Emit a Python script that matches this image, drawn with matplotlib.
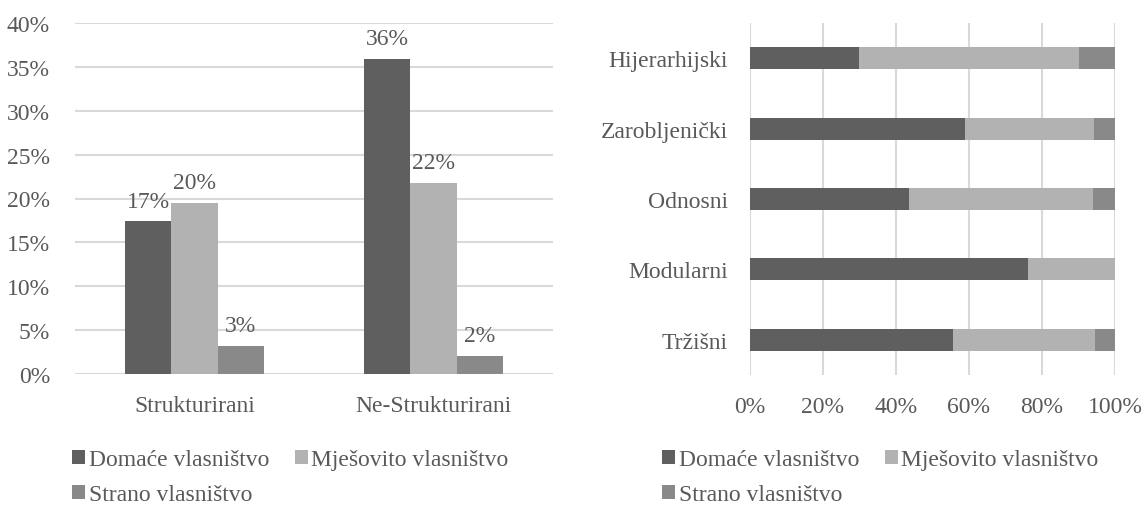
import matplotlib
matplotlib.use("Agg")
import matplotlib.pyplot as plt
from matplotlib.patches import Patch
from matplotlib.ticker import PercentFormatter
import numpy as np

# Data
series_names = ["Domaće vlasništvo", "Mješovito vlasništvo", "Strano vlasništvo"]
series_colors = ["#5f5f5f", "#b2b2b2", "#898989"]

structure_cats = ["Strukturirani", "Ne-Strukturirani"]
domace_struct = [17.4, 35.9]
mjesovito_struct = [19.5, 21.8]
strano_struct = [3.2, 2.1]

model_cats = ["Tržišni", "Modularni", "Odnosni", "Zarobljenički", "Hijerarhijski"]
domace_model = [55.5, 76.1, 43.6, 58.8, 30.0]
mjesovito_model = [39.0, 23.9, 50.4, 35.5, 60.1]
strano_model = [5.5, 0.0, 6.0, 5.7, 9.9]

text_color = "#595959"
grid_color = "#d9d9d9"
fs = 17

plt.rcParams["font.family"] = ["Liberation Serif", "DejaVu Serif"]
plt.rcParams["text.color"] = text_color
plt.rcParams["axes.labelcolor"] = text_color
plt.rcParams["xtick.color"] = text_color
plt.rcParams["ytick.color"] = text_color

W, H = 1142, 506
fig = plt.figure(figsize=(W / 100, H / 100), dpi=100)

def box(x0, y0, x1, y1):
    return [x0 / W, 1 - y1 / H, (x1 - x0) / W, (y1 - y0) / H]

# Left: grouped columns
ax1 = fig.add_axes(box(75, 24, 553, 375))
x = np.arange(len(structure_cats))
bw = 0.193
groups = [domace_struct, mjesovito_struct, strano_struct]
for i, (vals, col) in enumerate(zip(groups, series_colors)):
    bars = ax1.bar(x + (i - 1) * bw, vals, width=bw, color=col, zorder=3)
    ax1.bar_label(bars, labels=[f"{round(v):d}%" for v in vals],
                  padding=7, fontsize=fs, color=text_color)
ax1.set_xlim(-0.5, 1.5)
ax1.set_ylim(0, 40)
ax1.set_yticks(np.arange(0, 41, 5))
ax1.yaxis.set_major_formatter(PercentFormatter(decimals=0))
ax1.set_xticks(x)
ax1.set_xticklabels(structure_cats)
ax1.grid(axis="y", color=grid_color, linewidth=1.5, zorder=0)
ax1.tick_params(axis="both", length=0, labelsize=fs)
ax1.tick_params(axis="y", pad=18)
ax1.tick_params(axis="x", pad=15)
for s in ax1.spines.values():
    s.set_visible(False)

# Right: 100% stacked horizontal bars
ax2 = fig.add_axes(box(750, 24, 1115, 376))
y = np.arange(len(model_cats))
bh = 0.31
left = np.zeros(len(model_cats))
for vals, col in zip([domace_model, mjesovito_model, strano_model], series_colors):
    vals = np.array(vals)
    ax2.barh(y, vals, left=left, height=bh, color=col, zorder=3)
    left += vals
ax2.set_xlim(0, 100)
ax2.set_ylim(-0.5, len(model_cats) - 0.5)
ax2.set_xticks(np.arange(0, 101, 20))
ax2.xaxis.set_major_formatter(PercentFormatter(decimals=0))
ax2.set_yticks(y)
ax2.set_yticklabels(model_cats)
ax2.grid(axis="x", color=grid_color, linewidth=1.5, zorder=0)
ax2.tick_params(axis="both", length=0, labelsize=fs)
ax2.tick_params(axis="y", pad=16)
ax2.tick_params(axis="x", pad=15)
for s in ax2.spines.values():
    s.set_visible(False)

# Legends (column-wise fill gives two items on the first row)
handles = [Patch(facecolor=c, edgecolor="none") for c in series_colors]
order = [0, 2, 1]
for x0 in (72, 662):
    fig.legend([handles[i] for i in order], [series_names[i] for i in order],
               ncol=2, loc="upper left", bbox_to_anchor=(x0 / W, 1 - 450 / H),
               frameon=False, fontsize=fs, handlelength=0.55, handleheight=0.55,
               handletextpad=0.15, columnspacing=1.1, labelspacing=0.6,
               borderpad=0, borderaxespad=0)

fig.savefig("out.png", dpi=100)
